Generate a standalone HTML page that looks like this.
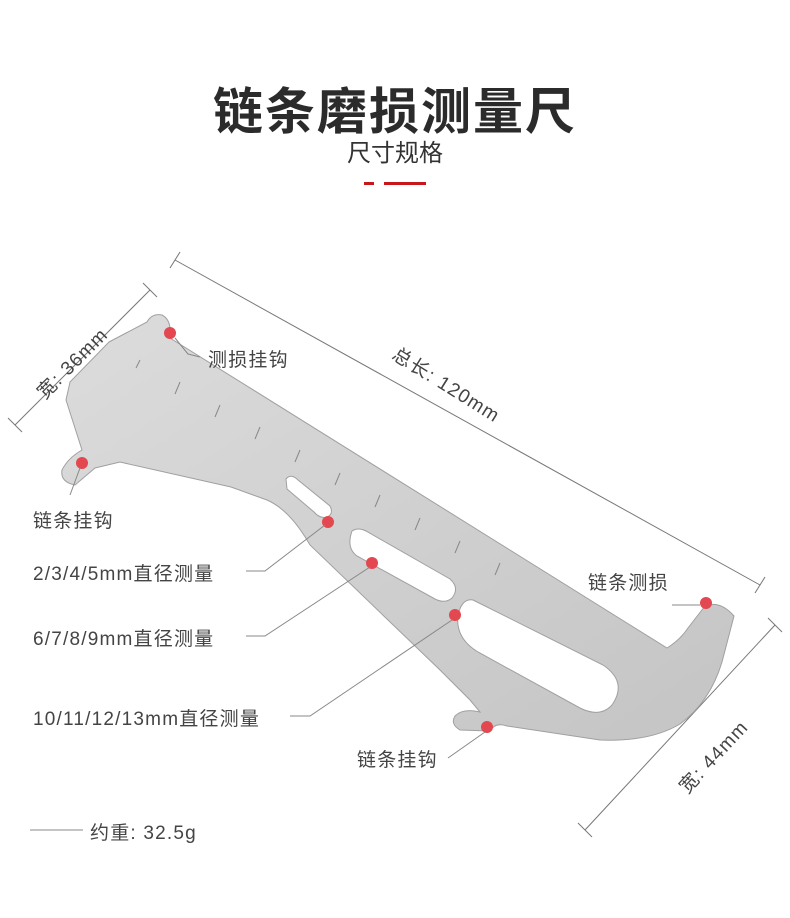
<!DOCTYPE html>
<html><head><meta charset="utf-8"><style>
body{margin:0;background:#fff;}
.w{position:relative;width:790px;height:918px;overflow:hidden;font-family:"Liberation Sans","Noto Sans CJK SC",sans-serif;color:#444;}
.t{position:absolute;white-space:nowrap;font-size:19px;letter-spacing:1.2px;}
</style></head><body><div class="w">
<div class="t" style="left:0;width:790px;text-align:center;top:72px;font-size:50px;font-weight:bold;color:#2b2b2b;letter-spacing:2px;">链条磨损测量尺</div>
<div class="t" style="left:0;width:790px;text-align:center;top:133px;font-size:24px;color:#333;letter-spacing:0">尺寸规格</div>
<div style="position:absolute;left:364px;top:182px;width:10px;height:3px;background:#c8161d"></div>
<div style="position:absolute;left:384px;top:182px;width:42px;height:3px;background:#c8161d"></div>
<svg width="790" height="918" style="position:absolute;left:0;top:0">
<defs><linearGradient id="g" x1="0" y1="0" x2="1" y2="1"><stop offset="0" stop-color="#dcdcdc"/><stop offset="0.5" stop-color="#d0d0d0"/><stop offset="1" stop-color="#c4c4c4"/></linearGradient></defs>
<g stroke="#777" stroke-width="1" fill="none">
<line x1="15" y1="425" x2="150" y2="290"/><line x1="8" y1="418" x2="22" y2="432"/><line x1="143" y1="283" x2="157" y2="297"/>
<line x1="175" y1="260" x2="760" y2="585"/><line x1="170" y1="268" x2="180" y2="252"/><line x1="755" y1="593" x2="765" y2="577"/>
<line x1="585" y1="830" x2="775" y2="625"/><line x1="578" y1="823" x2="592" y2="837"/><line x1="768" y1="618" x2="782" y2="632"/>
</g>
<path fill="url(#g)" stroke="#a0a0a0" stroke-width="1" d="M109,342 L147,322 Q152,313 162,315 Q172,320 170,338 L667,648 Q680,640 688,628 L705,606 Q720,600 734,616 L722,662 Q710,702 680,724 Q650,742 600,740 L507,726 Q495,722 490,731 L460,730 Q450,724 455,716 Q463,708 480,712 L470,700 L440,670 L310,545 Q290,510 267,500 L231,487 L120,462 L95,468 L75,485 Q60,482 62,470 Q68,458 82,450 L74,425 L66,400 L70,382 Z"/>
<g fill="#fff" stroke="#a0a0a0">
<path d="M286,479 Q291,473 298,480 L330,506 Q334,514 327,517 Q320,519 314,512 L287,489 Z"/>
<path d="M352,531 Q358,527 366,531 L450,579 Q460,588 452,598 Q445,604 435,599 L357,556 Q346,548 352,531 Z"/>
<path d="M473,600 L603,665 Q628,682 612,705 Q600,718 580,708 L478,652 Q455,638 458,615 Q462,598 473,600 Z"/>
</g>
<g stroke="#888" stroke-width="1">
<line x1="140" y1="360" x2="136" y2="368"/><line x1="180" y1="382" x2="175" y2="394"/><line x1="220" y1="405" x2="215" y2="417"/><line x1="260" y1="427" x2="255" y2="439"/><line x1="300" y1="450" x2="295" y2="462"/><line x1="340" y1="473" x2="335" y2="485"/><line x1="380" y1="495" x2="375" y2="507"/><line x1="420" y1="518" x2="415" y2="530"/><line x1="460" y1="541" x2="455" y2="553"/><line x1="500" y1="563" x2="495" y2="575"/>
</g>
<g fill="#e3474f"><circle cx="170" cy="333" r="6"/><circle cx="82" cy="463" r="6"/><circle cx="328" cy="522" r="6"/><circle cx="372" cy="563" r="6"/><circle cx="455" cy="615" r="6"/><circle cx="487" cy="727" r="6"/><circle cx="706" cy="603" r="6"/></g>
<g stroke="#888" fill="none" stroke-width="1">
<path d="M175,338 L188,354 L200,357"/><path d="M80,468 L70,495"/>
<path d="M246,571 L265,571 L325,525"/><path d="M246,636 L265,636 L370,567"/>
<path d="M290,716 L310,716 L452,620"/><path d="M448,758 L485,732"/>
<path d="M672,605 L700,605"/><line x1="30" y1="830" x2="83" y2="830"/>
</g>
</svg>
<div class="t" style="left:208px;top:345px;">测损挂钩</div>
<div class="t" style="left:33px;top:506px;">链条挂钩</div>
<div class="t" style="left:33px;top:559px;">2/3/4/5mm直径测量</div>
<div class="t" style="left:33px;top:624px;">6/7/8/9mm直径测量</div>
<div class="t" style="left:33px;top:704px;">10/11/12/13mm直径测量</div>
<div class="t" style="left:588px;top:568px;">链条测损</div>
<div class="t" style="left:357px;top:745px;">链条挂钩</div>
<div class="t" style="left:90px;top:818px;">约重: 32.5g</div>
<div class="t" style="left:30px;top:385px;transform:rotate(-45deg);transform-origin:left top;">宽: 36mm</div>
<div class="t" style="left:402px;top:340px;transform:rotate(32deg);transform-origin:left top;">总长: 120mm</div>
<div class="t" style="left:672px;top:780px;transform:rotate(-47deg);transform-origin:left top;">宽: 44mm</div>
</div></body></html>
